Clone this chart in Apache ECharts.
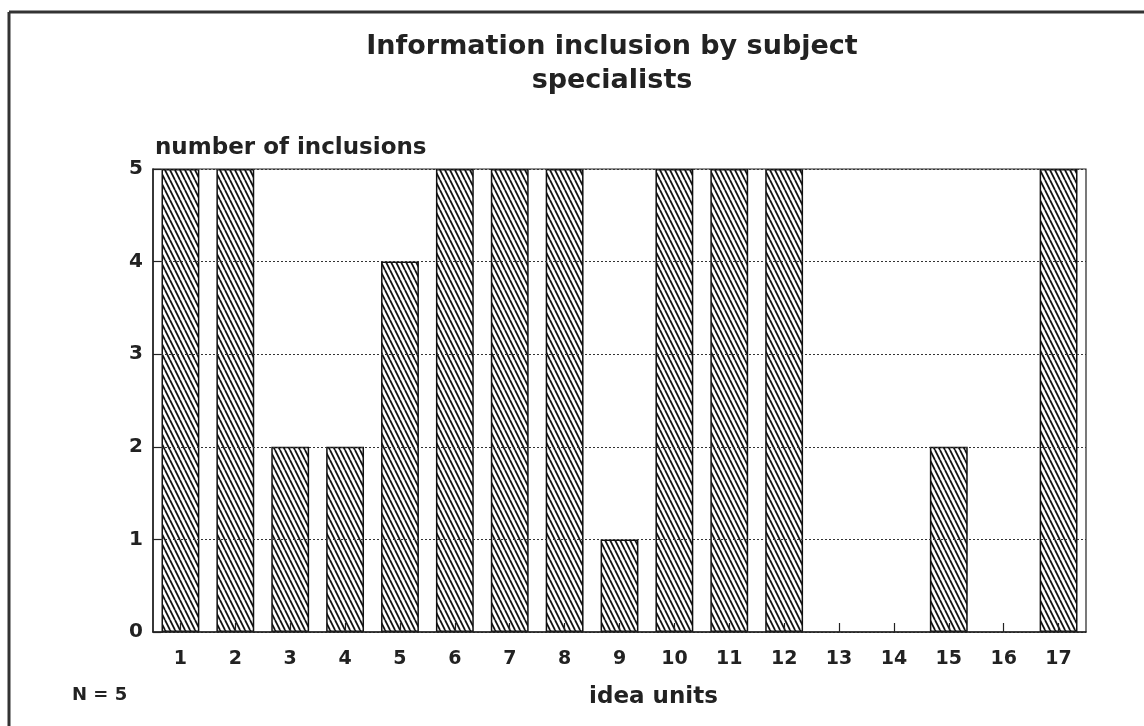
<!DOCTYPE html>
<html>
<head>
<meta charset="utf-8">
<script src="https://cdn.jsdelivr.net/npm/echarts@6/dist/echarts.min.js"></script>
<style>
html,body{margin:0;padding:0;background:#fff;}
#chart{width:1144px;height:726px;}
</style>
</head>
<body>
<div id="chart"></div>
<script>
const categories = ['1','2','3','4','5','6','7','8','9','10','11','12','13','14','15','16','17'];
const inclusions = [5,5,2,2,4,5,5,5,1,5,5,5,0,0,2,0,5];
const yTicks = [0,1,2,3,4,5];

const titleText = 'Information inclusion by subject\nspecialists';
const yName = 'number of inclusions';
const xName = 'idea units';
const noteText = 'N = 5';

function hatch() {
  const w = 5, h = 10;
  const c = document.createElement('canvas');
  c.width = w; c.height = h;
  const ctx = c.getContext('2d');
  ctx.fillStyle = '#fff';
  ctx.fillRect(0, 0, w, h);
  ctx.strokeStyle = '#111';
  ctx.lineWidth = 1.8;
  for (const dx of [-w, 0, w]) {
    ctx.beginPath();
    ctx.moveTo(dx, 0);
    ctx.lineTo(dx + w, h);
    ctx.stroke();
  }
  return c;
}

const FONT = 'DejaVu Sans';
const chart = echarts.init(document.getElementById('chart'));
chart.setOption({
  backgroundColor: '#fff',
  animation: false,
  title: {
    text: titleText,
    left: 607,
    top: 25,
    textAlign: 'center',
    textStyle: {fontFamily: FONT, fontWeight: 'bold', fontSize: 27, color: '#222', lineHeight: 34}
  },
  grid: {left: 153, right: 58, top: 169, bottom: 94, show: true, borderColor: '#222', borderWidth: 1.2, backgroundColor: 'transparent'},
  xAxis: {
    type: 'category',
    data: categories,
    name: xName,
    nameLocation: 'middle',
    nameGap: 54,
    nameTextStyle: {fontFamily: FONT, fontWeight: 'bold', fontSize: 23, color: '#222', padding: [0, 0, 0, 68]},
    axisLine: {show: true, lineStyle: {color: '#222', width: 1.5}},
    axisTick: {show: true, inside: true, alignWithLabel: true, interval: 0, length: 9, lineStyle: {color: '#222', width: 1.2}},
    axisLabel: {fontFamily: FONT, fontWeight: 'bold', fontSize: 19, color: '#222', margin: 18, interval: 0},
    splitLine: {show: false},
    z: 5
  },
  yAxis: {
    type: 'value',
    min: 0, max: 5, interval: 1,
    name: yName,
    nameLocation: 'end',
    nameGap: 9,
    nameTextStyle: {fontFamily: FONT, fontWeight: 'bold', fontSize: 23, color: '#222', align: 'left', verticalAlign: 'bottom', padding: [0, 0, 0, 2]},
    axisLine: {show: true, lineStyle: {color: '#222', width: 1.5}},
    axisTick: {show: true, inside: true, length: 8, lineStyle: {color: '#222', width: 1.2}},
    axisLabel: {fontFamily: FONT, fontWeight: 'bold', fontSize: 20, color: '#222', margin: 10,
      formatter: v => yTicks.includes(v) ? String(v) : ''},
    splitLine: {show: true, lineStyle: {color: '#333', type: [2, 2], width: 1}},
    z: 5
  },
  series: [{
    type: 'bar',
    data: inclusions.map(v => v === 0 ? {value: v, itemStyle: {borderWidth: 0}} : v),
    barWidth: '69%',
    itemStyle: {color: {image: hatch(), repeat: 'repeat'}, borderColor: '#111', borderWidth: 1.5},
    z: 1
  }],
  graphic: [
    {type: 'line', shape: {x1: 9, y1: 12, x2: 1144, y2: 12}, style: {stroke: '#333', lineWidth: 3}},
    {type: 'line', shape: {x1: 9, y1: 12, x2: 9, y2: 726}, style: {stroke: '#333', lineWidth: 3}},
    {type: 'text', left: 72, top: 686, style: {text: noteText, fontFamily: FONT, fontWeight: 'bold', fontSize: 18, fill: '#222'}}
  ]
});
</script>
</body>
</html>
